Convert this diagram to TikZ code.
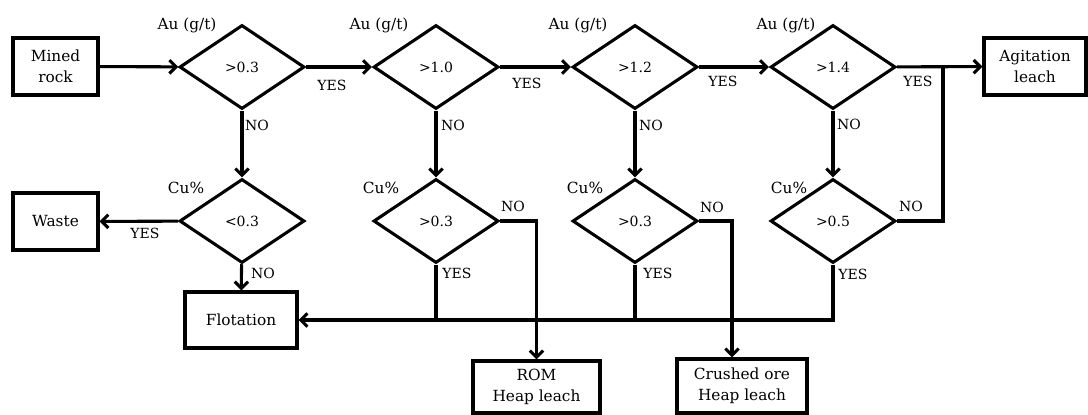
\documentclass[tikz,border=0pt]{standalone}
\usepackage{fontspec}
\setmainfont{DejaVu Serif}
\usetikzlibrary{arrows.meta,shapes.geometric}

\tikzset{
  box/.style={draw, line width=2.3pt, align=center, inner sep=0pt,
    font=\fontsize{11.5}{16}\selectfont},
  test/.style={draw, diamond, line width=2.3pt, inner sep=0pt,
    minimum width=93.75pt, minimum height=63pt, font=\fontsize{10.5}{12}\selectfont},
  cond/.style={inner sep=0pt, font=\fontsize{11.5}{13}\selectfont},
  lbl/.style={inner sep=0pt, font=\fontsize{10.5}{12}\selectfont},
  flow/.style={line width=2.3pt},
  arr/.style={flow, -{Straight Barb[length=5pt,width=10pt]}},
}

\begin{document}
\begin{tikzpicture}[x=0.75pt, y=-0.75pt]
  \useasboundingbox (0,0) rectangle (1088,414);

  % ============ boxes ============
  \node[box, minimum width=63.75pt, minimum height=42.75pt] (mined) at (55.5,66.5) {Mined\\rock};
  \node[box, minimum width=76.5pt, minimum height=42.75pt] (agit) at (1035,66.5) {Agitation\\leach};
  \node[box, minimum width=63.75pt, minimum height=42.75pt] (waste) at (55.5,221.5) {Waste};
  \node[box, minimum width=84pt, minimum height=42pt] (flot) at (241,320) {Flotation};
  \node[box, minimum width=95.25pt, minimum height=39pt] (rom) at (536.5,387) {ROM\\Heap leach};
  \node[box, minimum width=97.5pt, minimum height=40.5pt] (crush) at (742,386) {Crushed ore\\Heap leach};

  % ============ Au tests (top row) ============
  \node[test] (au1) at (242,67) {>0.3};
  \node[test] (au2) at (436,67) {>1.0};
  \node[test] (au3) at (635,67) {>1.2};
  \node[test] (au4) at (833,67) {>1.4};

  \node[cond] (aul1) at (187,25) {Au (g/t)};
  \node[cond] (aul2) at (379,25) {Au (g/t)};
  \node[cond] (aul3) at (578,25) {Au (g/t)};
  \node[cond] (aul4) at (786,25) {Au (g/t)};

  % ============ Cu tests (second row) ============
  \node[test] (cu1) at (242,221) {<0.3};
  \node[test] (cu2) at (436,221) {>0.3};
  \node[test] (cu3) at (635,221) {>0.3};
  \node[test] (cu4) at (833,221) {>0.5};

  \node[cond] (cul1) at (186,188) {Cu\%};
  \node[cond] (cul2) at (381,188) {Cu\%};
  \node[cond] (cul3) at (585,188) {Cu\%};
  \node[cond] (cul4) at (789,188) {Cu\%};

  % ============ main line ============
  \draw[arr] (mined) -- (au1);
  \draw[arr] (au1) -- (au2);
  \draw[arr] (au2) -- (au3);
  \draw[arr] (au3) -- (au4);
  \draw[arr] (au4) -- (agit);

  \node[lbl] (y1) at (332,85) {YES};
  \node[lbl] (y2) at (527,83) {YES};
  \node[lbl] (y3) at (723,81) {YES};
  \node[lbl] (y4) at (918,81) {YES};

  % down to the Cu tests
  \draw[arr] (au1) -- (cu1);
  \draw[arr] (au2) -- (cu2);
  \draw[arr] (au3) -- (cu3);
  \draw[arr] (au4) -- (cu4);

  \node[lbl] (n1) at (257,125) {NO};
  \node[lbl] (n2) at (453,125) {NO};
  \node[lbl] (n3) at (651,125) {NO};
  \node[lbl] (n4) at (849,124) {NO};

  % ============ Cu outcomes ============
  \draw[arr] (cu1) -- (waste);
  \node[lbl] (cy1) at (145,233) {YES};
  \draw[arr] (cu1) -- (flot);
  \node[lbl] (cn1) at (263,273) {NO};

  % yes branches collect into flotation
  \draw[arr] (cu4.south) |- (flot.east);
  \draw[flow] (cu2.south) -- (cu2.south |- flot.east);
  \draw[flow] (cu3.south) -- (cu3.south |- flot.east);
  \node[lbl] (cy2) at (457,273) {YES};
  \node[lbl] (cy3) at (658,273) {YES};
  \node[lbl] (cy4) at (853,274) {YES};

  % no branches to heap leach / agitation
  \draw[arr] (cu2.east) -| (rom.north);
  \coordinate (c3) at (732,221);
  \draw[arr] (cu3.east) -- (c3) -- (c3 |- crush.north);
  \coordinate (c4) at (943,67);
  \draw[flow] (cu4.east) -| (c4);
  \node[lbl] (cn2) at (513,206) {NO};
  \node[lbl] (cn3) at (712,207) {NO};
  \node[lbl] (cn4) at (911,206) {NO};

\end{tikzpicture}
\end{document}
